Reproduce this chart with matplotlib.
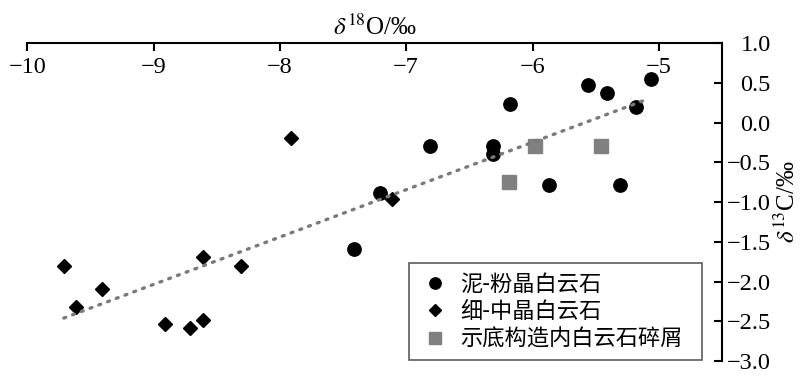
import numpy as np
import matplotlib
matplotlib.use("Agg")
import matplotlib.pyplot as plt

plt.rcParams['font.family'] = ['Liberation Serif', 'DejaVu Serif']
plt.rcParams['mathtext.fontset'] = 'stix'

# 泥-粉晶白云石
mud_x = [-5.06, -5.56, -5.41, -5.18, -6.18, -6.81, -6.31, -6.31, -5.87, -5.31, -7.21, -7.41]
mud_y = [0.55, 0.47, 0.37, 0.19, 0.23, -0.30, -0.30, -0.40, -0.79, -0.79, -0.89, -1.59]

# 细-中晶白云石
fine_x = [-7.91, -7.11, -9.71, -9.41, -9.61, -8.61, -8.31, -8.91, -8.71, -8.61]
fine_y = [-0.20, -0.96, -1.81, -2.09, -2.32, -1.69, -1.81, -2.54, -2.58, -2.48]

# 示底构造内白云石碎屑
frag_x = [-5.98, -5.46, -6.19]
frag_y = [-0.30, -0.30, -0.75]

# trend line end points
trend_x = [-9.71, -5.08]
trend_y = [-2.46, 0.30]

labels = ['泥-粉晶白云石', '细-中晶白云石', '示底构造内白云石碎屑']
yticks = [-3.0, -2.5, -2.0, -1.5, -1.0, -0.5, 0.0, 0.5, 1.0]

fig = plt.figure(figsize=(8, 3.81), dpi=100)
ax = fig.add_axes([0.034, 0.0525, 0.8685, 0.8345])

ax.plot(trend_x, trend_y, color='#7a7a7a', linestyle=(0, (0.6, 2.2)),
        linewidth=2.4, dash_capstyle='round', zorder=3)
ax.plot(mud_x, mud_y, 'o', color='black', markersize=9.6, linestyle='none',
        label=labels[0], zorder=2)
ax.plot(fine_x, fine_y, 'D', color='black', markersize=7, linestyle='none',
        label=labels[1], zorder=2)
ax.plot(frag_x, frag_y, 's', color='#808080', markersize=9.5, linestyle='none',
        label=labels[2], zorder=2)

ax.set_xlim(-10, -4.5)
ax.set_ylim(-3.0, 1.0)
ax.set_xticks([-10, -9, -8, -7, -6, -5])
ax.set_yticks(yticks)
ax.set_yticklabels([f'{v:.1f}'.replace('-', '\u2212') for v in yticks])

ax.spines['top'].set_visible(False)
ax.spines['left'].set_visible(False)
ax.spines['bottom'].set_position(('axes', 1.0))
for s in ('bottom', 'right'):
    ax.spines[s].set_linewidth(1.5)

ax.tick_params(axis='x', direction='out', length=6, width=1.5, labelsize=17.5, pad=4)
ax.yaxis.tick_right()
ax.tick_params(axis='y', direction='in', length=6, width=1.5, labelsize=17.5, pad=35)
for lbl in ax.get_yticklabels():
    lbl.set_horizontalalignment('right')

ax.xaxis.set_label_position('top')
ax.set_xlabel(r'$\delta^{18}$O/‰', fontsize=18, labelpad=6)
ax.yaxis.set_label_position('right')
ax.set_ylabel(r'$\delta^{13}$C/‰', fontsize=18, labelpad=3)

leg = ax.legend(loc='lower left', bbox_to_anchor=(0.55, 0.003, 0.421, 0.308),
                mode='expand',
                prop={'family': ['Noto Sans CJK SC', 'DejaVu Sans'], 'size': 16},
                frameon=True, fancybox=False, edgecolor='#333333',
                markerscale=0.85, handlelength=1.5, handletextpad=0.35,
                labelspacing=0.2, borderpad=0.42, borderaxespad=0)
leg.get_frame().set_linewidth(1.2)

fig.savefig('out.png', dpi=100)
